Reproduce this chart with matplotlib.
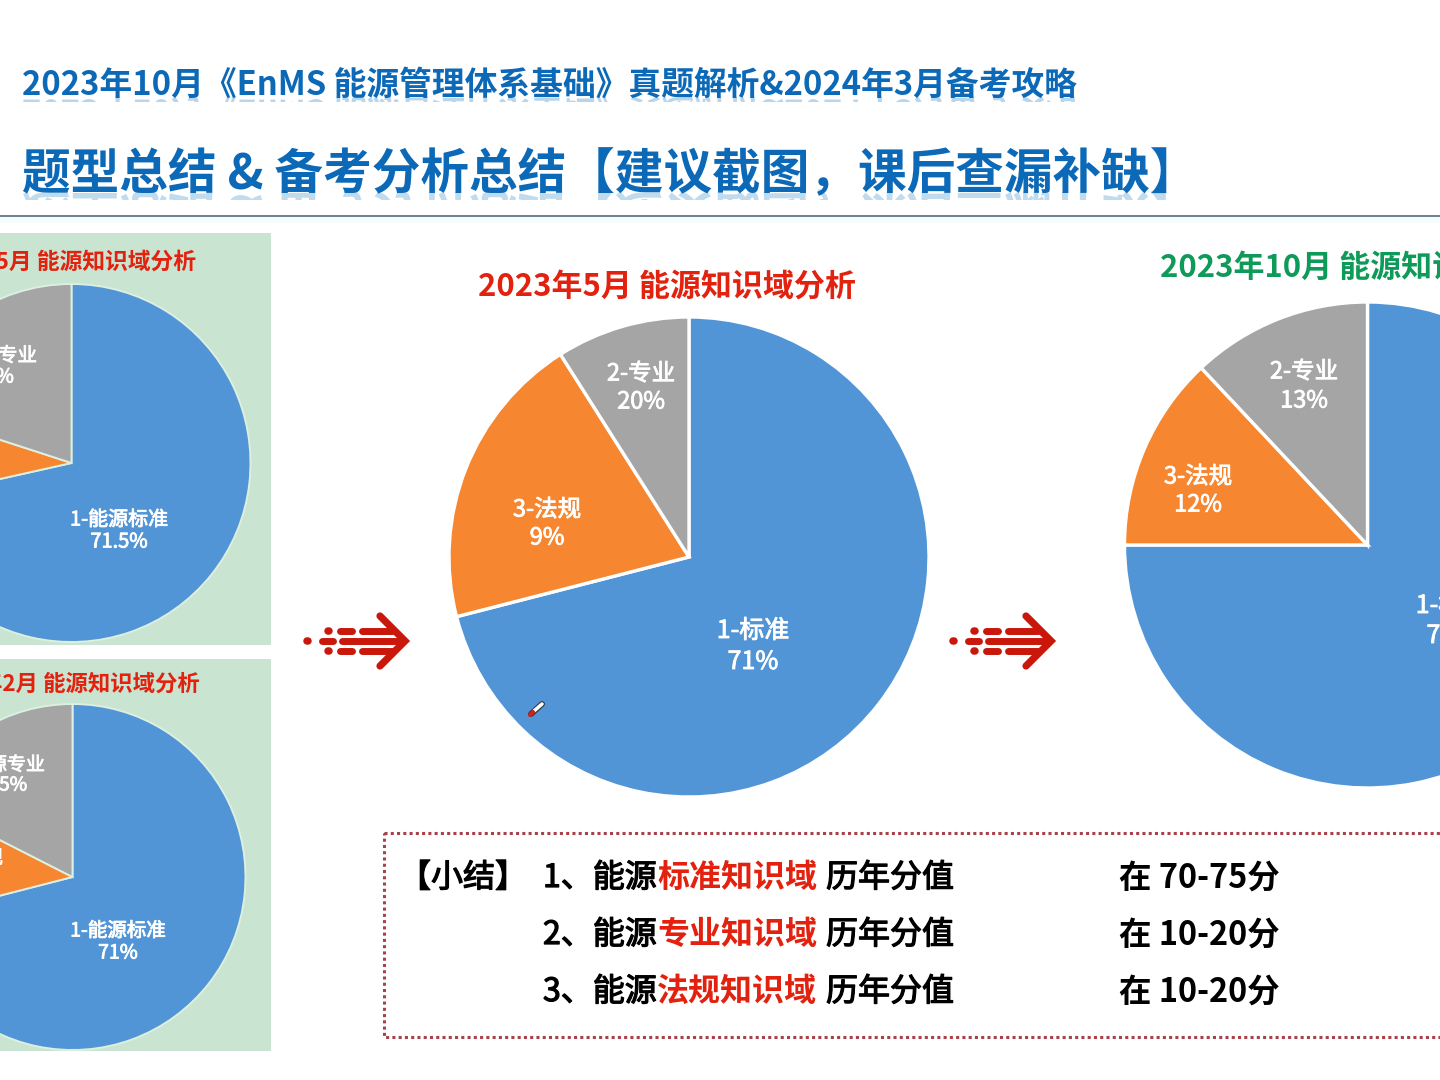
import matplotlib
matplotlib.use("Agg")
import matplotlib.pyplot as plt
import matplotlib.patheffects as pe
from matplotlib.patches import Rectangle, PathPatch
from matplotlib.textpath import TextPath
from matplotlib.font_manager import FontProperties
from matplotlib.transforms import Affine2D

plt.rcParams['font.family'] = ['Noto Sans CJK SC', 'DejaVu Sans']

W, H = 1440, 1080

# ---------- data ----------
pie_colors = ['#5295d6', '#f6862f', '#a5a5a5']

top_left_values = [71.5, 8.5, 20]
bottom_left_values = [71, 11.5, 17.5]
main_values = [71, 20, 9]
right_values = [75, 13, 12]

title_main = '2023年10月《EnMS 能源管理体系基础》真题解析&2024年3月备考攻略'
title_sub = '题型总结 & 备考分析总结【建议截图，课后查漏补缺】'
top_left_title = '2023年5月 能源知识域分析'
bottom_left_title = '2023年2月 能源知识域分析'
main_title = '2023年5月 能源知识域分析'
right_title = '2023年10月 能源知识域分析'

summary_head = '【小结】'
summary_prefix = ['1、能源', '2、能源', '3、能源']
summary_domain = ['标准知识域', '专业知识域', '法规知识域']
summary_mid = '历年分值'
summary_range = ['在 70-75分', '在 10-20分', '在 10-20分']

# ---------- canvas ----------
fig = plt.figure(figsize=(W / 100, H / 100), dpi=100, facecolor='white')


def overlay(z):
    ax = fig.add_axes([0, 0, 1, 1], zorder=z)
    ax.set_xlim(0, W)
    ax.set_ylim(H, 0)
    ax.axis('off')
    ax.patch.set_alpha(0)
    return ax


bg = overlay(0)
top = overlay(5)

# header rule
bg.plot([0, W], [216, 216], color='#3f6078', lw=1.1, solid_capstyle='butt')
bg.add_patch(Rectangle((0, 217), W, 6, facecolor='#f6fbfd', edgecolor='none'))

# left green panels
for (y0, y1) in [(233, 645), (659, 1051)]:
    bg.add_patch(Rectangle((0, y0), 271, y1 - y0, facecolor='#c9e4d0', edgecolor='none'))


def pie_at(cx, cy, r, values, edge, lw):
    m = r + 4
    ax = fig.add_axes([(cx - m) / W, 1 - (cy + m) / H, 2 * m / W, 2 * m / H], zorder=2)
    ax.pie(values, colors=pie_colors, startangle=90, counterclock=False, radius=r,
           wedgeprops=dict(edgecolor=edge, linewidth=lw))
    ax.set_xlim(-m, m)
    ax.set_ylim(-m, m)
    ax.set_aspect('equal')
    ax.axis('off')
    return ax


pie_at(71.5, 463, 179, top_left_values, '#dcefe0', 1.4)
pie_at(72.5, 877, 173, bottom_left_values, '#dcefe0', 1.4)
pie_at(689, 557, 240, main_values, 'white', 2.4)
pie_at(1367.5, 545, 243, right_values, 'white', 2.4)


def T(x, y, s, px, color='black', ha='center', weight='bold', stroke=0.0, ax=top):
    t = ax.text(x, y + 2, s, fontsize=px * 0.72, color=color, ha=ha, va='center',
                fontweight=weight, clip_on=False)
    if stroke:
        t.set_path_effects([pe.withStroke(linewidth=stroke, foreground=color)])
    return t


def title_with_reflection(x, base, s, px, color, depth, pale):
    top.text(x, base, s, fontsize=px * 0.72, color=color, ha='left', va='baseline',
             fontweight='bold', clip_on=False)
    fp = FontProperties(family='Noto Sans CJK SC', weight='bold')
    path = TextPath((0, 0), s, size=px, prop=fp)
    drop = 0.07 * px
    # axes y grows downward, so glyph-up coordinates are mirrored below the glyph feet
    patch = PathPatch(path, facecolor=pale, edgecolor='none',
                      transform=Affine2D().translate(x, base + 2 * drop) + bg.transData)
    bg.add_patch(patch)
    clip = Rectangle((0, base), W, depth + drop, transform=bg.transData)
    patch.set_clip_path(clip)


blue = '#0b69b7'
title_with_reflection(22, 95, title_main, 32.8, blue, 5, '#b9d5ec')
title_with_reflection(22, 189, title_sub, 48.6, blue, 8, '#c0daee')

# pie titles
red = '#e2210f'
T(196, 260, top_left_title, 22.8, red, ha='right')
T(200, 682, bottom_left_title, 22.4, red, ha='right')
T(667, 284.5, main_title, 31, red)
T(1160, 266, right_title, 31, '#0e9a58', ha='left')


def pair(x, y1, y2, a, b, px, ha='center'):
    T(x, y1, a, px, 'white', ha=ha, weight='regular', stroke=0.6)
    T(x, y2, b, px, 'white', ha=ha, weight='regular', stroke=0.6)


pair(119, 518, 540, '1-能源标准', '71.5%', 20)
T(37, 354, '2-能源专业', 19.5, 'white', ha='right', weight='regular', stroke=0.6)
T(14, 375, '20%', 19.5, 'white', ha='right', weight='regular', stroke=0.6)
pair(118, 929, 951, '1-能源标准', '71%', 19.5)
T(45, 763, '2-能源专业', 19, 'white', ha='right', weight='regular', stroke=0.6)
T(27, 783, '17.5%', 19, 'white', ha='right', weight='regular', stroke=0.6)
T(3, 856, '3-法规', 19, 'white', ha='right', weight='regular', stroke=0.6)

pair(753, 629, 660, '1-标准', '71%', 25)
pair(547, 508, 536, '3-法规', '9%', 23.5)
pair(641, 372, 400, '2-专业', '20%', 23.5)

pair(1304, 370, 399, '2-专业', '13%', 23.5)
pair(1198, 475, 503, '3-法规', '12%', 23.5)
pair(1452, 604, 634, '1-标准', '75%', 25)

# arrows
arrow_red = '#c9170b'
for dx in (0, 646):
    for xs, y, lw in [((307, 307.5), 641, 5.4), ((322, 333), 641, 5), ((342, 402), 641, 5),
                      ((328, 329), 631, 5.4), ((340, 352), 631, 5), ((362, 392), 631, 5),
                      ((328, 329), 651, 5.4), ((340, 352), 651, 5), ((362, 392), 651, 5)]:
        bg.plot([xs[0] + dx, xs[1] + dx], [y, y], color=arrow_red, lw=lw, solid_capstyle='round')
    bg.plot([380 + dx, 405 + dx, 380 + dx], [616, 641, 666], color=arrow_red, lw=5.2,
            solid_capstyle='round', solid_joinstyle='miter')

# cursor
top.plot([531, 542], [714, 704], color='#333333', lw=4.2, solid_capstyle='round')
top.plot([534, 542], [711, 704], color='white', lw=2.6, solid_capstyle='round')
top.plot([530, 533], [715, 712], color='#d02020', lw=3, solid_capstyle='round')

# summary box
top.add_patch(Rectangle((384, 833), 1100, 204, facecolor='none', edgecolor='#a8424a',
                        lw=2.2, linestyle=(0, (1, 1.05))))

row_y = [876, 933, 990]
T(399, row_y[0], summary_head, 32, 'black', ha='left', weight='regular', stroke=0.9)
for y, p, d, r in zip(row_y, summary_prefix, summary_domain, summary_range):
    T(543, y, p, 32, 'black', ha='left', weight='regular', stroke=0.9)
    T(657, y, d, 32, red, ha='left')
    T(826, y, summary_mid, 32, 'black', ha='left', weight='regular', stroke=0.9)
    T(1119, y, r, 32.5, 'black', ha='left')

fig.savefig('out.png', dpi=100)
